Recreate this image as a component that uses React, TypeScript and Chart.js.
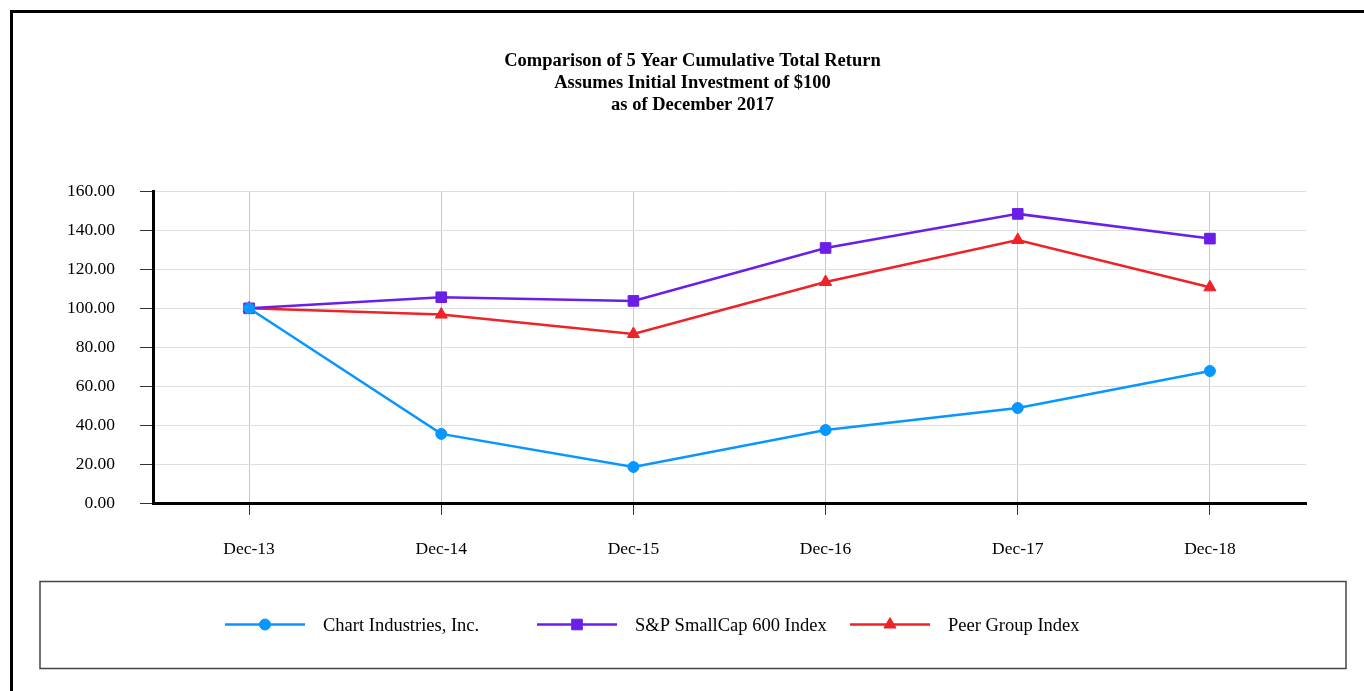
import React, { useEffect, useRef } from "react";
import { Chart, registerables } from "chart.js";
import { drawPoint } from "chart.js/helpers";

Chart.register(...registerables);

const categories = ["Dec-13", "Dec-14", "Dec-15", "Dec-16", "Dec-17", "Dec-18"];
const chartIndustries = [100, 35.5, 18.5, 37.5, 48.8, 67.8];
const spSmallCap600 = [100, 105.7, 103.8, 131.0, 148.5, 135.8];
const peerGroup = [100, 96.8, 86.8, 113.5, 135.1, 110.8];
const seriesLabels = ["Chart Industries, Inc.", "S&P SmallCap 600 Index", "Peer Group Index"];
const titleLines = [
  "Comparison of 5 Year Cumulative Total Return",
  "Assumes Initial Investment of $100",
  "as of December 2017",
];
const yMin = 0;
const yMax = 160;
const yStep = 20;

const FONT = '"Liberation Serif", "Times New Roman", serif';

const pageTitle = {
  id: "pageTitle",
  afterDraw(chart: any) {
    const ctx = chart.ctx as CanvasRenderingContext2D;
    ctx.save();
    ctx.fillStyle = "#000";
    ctx.font = `bold 18.5px ${FONT}`;
    ctx.textAlign = "center";
    ctx.textBaseline = "middle";
    titleLines.forEach((line, i) => {
      ctx.fillText(line, 692.5, 61 + i * 22);
    });
    ctx.restore();
  },
};

const boxLegend = {
  id: "boxLegend",
  afterDraw(chart: any) {
    const ctx = chart.ctx as CanvasRenderingContext2D;
    ctx.save();
    ctx.strokeStyle = "#444";
    ctx.lineWidth = 1.5;
    ctx.strokeRect(40, 581.5, 1306, 87);
    const starts = [225, 537, 850];
    chart.data.datasets.forEach((ds: any, i: number) => {
      const x = starts[i];
      const y = 624.5;
      ctx.strokeStyle = ds.borderColor;
      ctx.fillStyle = ds.borderColor;
      ctx.lineWidth = 2.5;
      ctx.beginPath();
      ctx.moveTo(x, y);
      ctx.lineTo(x + 80, y);
      ctx.stroke();
      ctx.lineWidth = 1;
      drawPoint(ctx, { pointStyle: ds.pointStyle, radius: ds.pointRadius, rotation: 0, borderWidth: 1 } as any, x + 40, y);
      ctx.fillStyle = "#000";
      ctx.font = `18.5px ${FONT}`;
      ctx.textBaseline = "middle";
      ctx.textAlign = "left";
      ctx.fillText(ds.label, x + 98, y + 1.5);
    });
    ctx.restore();
  },
};

export default function App() {
  const canvasRef = useRef<HTMLCanvasElement | null>(null);

  useEffect(() => {
    if (!canvasRef.current) return;
    Chart.defaults.font.family = FONT;
    const chart = new Chart(canvasRef.current, {
      type: "line",
      data: {
        labels: categories,
        datasets: [
          {
            label: seriesLabels[0],
            data: chartIndustries,
            borderColor: "#0896ff",
            backgroundColor: "#0896ff",
            pointBackgroundColor: "#0896ff",
            pointBorderColor: "#0896ff",
            pointStyle: "circle",
            pointRadius: 5.5,
            pointBorderWidth: 1,
            borderWidth: 2.5,
            tension: 0,
          },
          {
            label: seriesLabels[1],
            data: spSmallCap600,
            borderColor: "#6a1fe8",
            backgroundColor: "#6a1fe8",
            pointBackgroundColor: "#6a1fe8",
            pointBorderColor: "#6a1fe8",
            pointStyle: "rect",
            pointRadius: 7.5,
            pointBorderWidth: 1,
            borderWidth: 2.5,
            tension: 0,
          },
          {
            label: seriesLabels[2],
            data: peerGroup,
            borderColor: "#ee2328",
            backgroundColor: "#ee2328",
            pointBackgroundColor: "#ee2328",
            pointBorderColor: "#ee2328",
            pointStyle: "triangle",
            pointRadius: 7,
            pointBorderWidth: 1,
            borderWidth: 2.5,
            tension: 0,
          },
        ],
      },
      options: {
        responsive: true,
        maintainAspectRatio: false,
        animation: false,
        layout: { padding: { top: 191.5, left: 0, right: 58, bottom: 128 } },
        plugins: {
          legend: { display: false },
          tooltip: { enabled: false },
          title: { display: false },
        },
        scales: {
          x: {
            offset: true,
            ticks: { color: "#000", font: { size: 17.5 }, padding: 24, maxRotation: 0 },
            grid: { color: "#c8c8c8", lineWidth: 1, tickLength: 12, tickColor: "#333", offset: false },
            border: { color: "#000", width: 3 },
            afterFit: (s: any) => {
              s.height = 60;
            },
          },
          y: {
            min: yMin,
            max: yMax,
            ticks: {
              stepSize: yStep,
              color: "#000",
              font: { size: 17.5 },
              padding: 25,
              callback: (v: any) => Number(v).toFixed(2),
            },
            grid: { color: "#dedede", lineWidth: 1, tickLength: 13, tickColor: "#333" },
            border: { color: "#000", width: 3 },
            afterFit: (s: any) => {
              s.width = 153;
            },
          },
        },
      },
      plugins: [pageTitle, boxLegend],
    });
    return () => chart.destroy();
  }, []);

  return (
    <>
      <div style={{ position: "fixed", left: 0, top: 0, width: 1364, height: 691, background: "#fff" }}>
        <canvas ref={canvasRef} />
      </div>
      <div
        style={{
          position: "fixed",
          left: 10,
          top: 10,
          width: 1400,
          height: 720,
          borderTop: "3px solid #000",
          borderLeft: "3px solid #000",
          pointerEvents: "none",
        }}
      />
    </>
  );
}
